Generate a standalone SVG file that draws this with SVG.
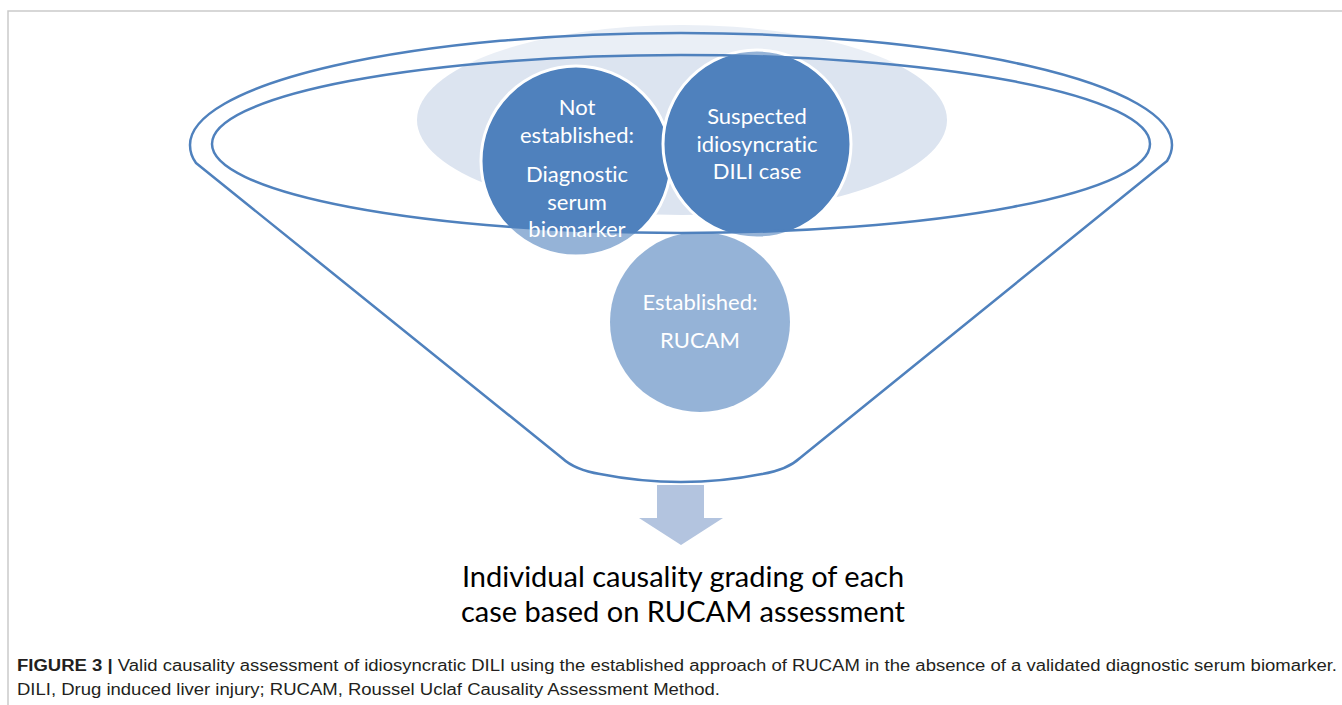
<svg xmlns="http://www.w3.org/2000/svg" width="1342" height="705" viewBox="0 0 1342 705">
<style>
.frame{stroke:#A6A6A6;stroke-width:1.5;fill:none}
.rim{fill:none;stroke:#4F81BD;stroke-width:2.5;stroke-linejoin:round}
.dark{fill:#4F81BD;stroke:#FFFFFF;stroke-width:3}
.ctext{font-family:Lato,"Open Sans",sans-serif;font-size:22px;fill:#FFFFFF;text-anchor:middle;font-variant-ligatures:none}
.btext{font-family:Lato,"Open Sans",sans-serif;font-size:29px;fill:#000000;text-anchor:middle;font-variant-ligatures:none}
.cap{font-family:"Liberation Sans",Arial,sans-serif;font-size:16px;fill:#231F20}
</style>
<rect width="1342" height="705" fill="#FFFFFF"/>
<g id="frame">
<path class="frame" d="M8,705 V11 H1342"/>
</g>
<g id="funnel-back">
<ellipse cx="682" cy="120" rx="265" ry="95" fill="#DCE4F0"/>
</g>
<g id="node-not-established">
<circle class="dark" cx="576" cy="161" r="95"/>
</g>
<g id="node-suspected">
<circle class="dark" cx="757" cy="144" r="94"/>
</g>
<g id="node-established">
<circle cx="700" cy="322" r="90" fill="#4F81BD"/>
</g>
<g id="funnel-glass">
<path d="M0,0 H1342 V705 H0 Z M212,144 A469,89 0 1,0 1150,144 A469,89 0 1,0 212,144 Z" fill="#FFFFFF" fill-opacity="0.4" fill-rule="evenodd"/>
</g>
<g id="funnel">
<ellipse class="rim" cx="681" cy="144" rx="469" ry="89"/>
<path class="rim" d="M196,163 Q190,155 190,145 A491,112 0 0,1 1172,145 Q1172,153 1167,161 L800,458 Q787,470 762,474 Q722,482 681,482 Q640,482 600,474 Q575,470 562,458 Z"/>
</g>
<g id="texts-circles">
<text class="ctext" x="577" y="115">Not</text>
<text class="ctext" x="577" y="143">established:</text>
<text class="ctext" x="577" y="182">Diagnostic</text>
<text class="ctext" x="577" y="210">serum</text>
<text class="ctext" x="577" y="237">biomarker</text>
<text class="ctext" x="757" y="124">Suspected</text>
<text class="ctext" x="757" y="152">idiosyncratic</text>
<text class="ctext" x="757" y="179">DILI case</text>
<text class="ctext" x="700" y="310">Established:</text>
<text class="ctext" x="700" y="348">RUCAM</text>
</g>
<g id="connectors">
<polygon points="657,485 704,485 704,518 723,518 681,545 639,518 657,518" fill="#B3C4DF"/>
</g>
<g id="node-result">
<text class="btext" x="683" y="587">Individual causality grading of each</text>
<text class="btext" x="683" y="622">case based on RUCAM assessment</text>
</g>
<g id="caption">
<text class="cap" x="17" y="671" textLength="1320" lengthAdjust="spacingAndGlyphs"><tspan font-weight="bold">FIGURE 3 |</tspan> Valid causality assessment of idiosyncratic DILI using the established approach of RUCAM in the absence of a validated diagnostic serum biomarker.</text>
<text class="cap" x="17" y="695" textLength="703" lengthAdjust="spacingAndGlyphs">DILI, Drug induced liver injury; RUCAM, Roussel Uclaf Causality Assessment Method.</text>
</g>
</svg>
